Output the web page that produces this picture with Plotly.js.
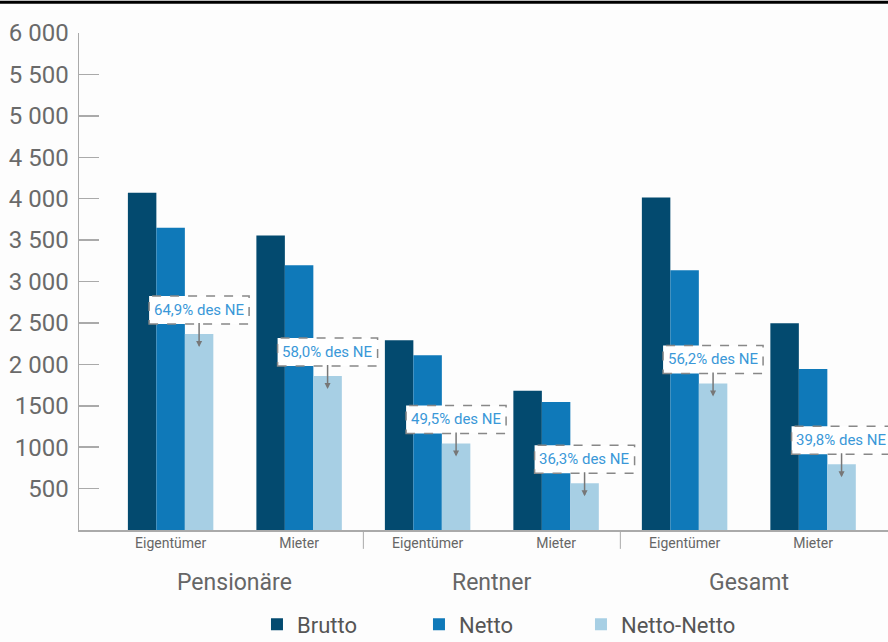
<!DOCTYPE html>
<html><head><meta charset="utf-8">
<script src="https://cdn.plot.ly/plotly-3.0.1.min.js"></script>
<style>html,body{margin:0;padding:0;background:#fdfdfd;}#chart{width:888px;height:642px;}</style>
</head><body><div id="chart"></div>
<script>
const subCats = ["Eigentümer","Mieter","Eigentümer","Mieter","Eigentümer","Mieter"];
const groups = ["Pensionäre","Rentner","Gesamt"];
const brutto = [4070, 3555, 2290, 1680, 4015, 2495];
const netto = [3650, 3195, 2110, 1545, 3135, 1945];
const nettoNetto = [2365, 1860, 1045, 565, 1770, 795];
const shareLabels = ["64,9% des NE","58,0% des NE","49,5% des NE","36,3% des NE","56,2% des NE","39,8% des NE"];
const yTickVals = [500,1000,1500,2000,2500,3000,3500,4000,4500,5000,5500,6000];
const yTickText = ["500","1000","1500","2 000","2 500","3 000","3 500","4 000","4 500","5 000","5 500","6 000"];

const FONT = "Roboto, 'DejaVu Sans Condensed', sans-serif";
const xs = subCats.map((_, i) => i);
const bargap = 0.335;
const barW = (1 - bargap) / 3;

const mk = (name, y, color) => ({type:'bar', name, x: xs, y, marker:{color, line:{width:0}}, hoverinfo:'skip'});
const data = [
  mk('Brutto', brutto, '#034a6f'),
  mk('Netto', netto, '#0f79b9'),
  mk('Netto-Netto', nettoNetto, '#a7cfe4')
];

const annotations = [];
const shapes = [];
nettoNetto.forEach((v, i) => {
  const xc = i + barW;
  annotations.push({
    x: xc, y: v, xref:'x', yref:'y', text: shareLabels[i],
    showarrow:true, ax:0, ay:-37, yshift:-13, arrowhead:2, arrowsize:0.8, arrowwidth:1.5,
    arrowcolor:'#777', bgcolor:'rgba(0,0,0,0)', borderwidth:0, borderpad:4,
    font:{family:FONT, size:15, color:'#3a98d8'}
  });
  shapes.push({
    type:'rect', xref:'x', yref:'y', xsizemode:'pixel', ysizemode:'pixel',
    xanchor: xc, yanchor: v, x0:-50, x1:50, y0:10, y1:38,
    line:{color:'#888', width:1.5, dash:'dash'}, fillcolor:'#ffffff', layer:'above'
  });
});
groups.forEach((g, k) => {
  annotations.push({x: 2*k + 0.5, y: -0.105, xref:'x', yref:'paper', text: g, showarrow:false,
    font:{family:FONT, size:23, color:'#666'}, yanchor:'middle'});
});
[1.5, 3.5].forEach(p => shapes.push({type:'line', xref:'x', yref:'paper', x0:p, x1:p, y0:0, y1:-0.038,
  line:{color:'#aaa', width:1}}));
shapes.push({type:'line', xref:'paper', yref:'paper', x0:-0.2, x1:1.05, y0:1.062, y1:1.062, line:{color:'#000', width:3}});

const layout = {
  width:888, height:642,
  margin:{l:79, r:0, t:33, b:112, autoexpand:false},
  paper_bgcolor:'#fdfdfd', plot_bgcolor:'#fdfdfd',
  barmode:'group', bargap: bargap, bargroupgap:0,
  showlegend:true,
  legend:{orientation:'h', x:0.22, xanchor:'left', y:-0.19, yanchor:'middle',
    font:{family:FONT, size:22, color:'#555'}, itemwidth:30, traceorder:'normal', entrywidth:117, entrywidthmode:'pixels'},
  xaxis:{range:[-0.713, 5.583], tickvals: xs, ticktext: subCats, showline:true, linecolor:'#aaa', linewidth:1.5,
    showgrid:false, zeroline:false, ticks:'', tickfont:{family:FONT, size:14, color:'#666'}, fixedrange:true},
  yaxis:{range:[0, 6000], tickvals: yTickVals, ticktext: yTickText, showline:true, linecolor:'#aaa', linewidth:1.5,
    showgrid:false, zeroline:false, ticks:'inside', ticklen:20, tickcolor:'#aaa', tickwidth:1.5,
    ticklabelstandoff:4, tickfont:{family:FONT, size:24, color:'#6a6a6a'}, fixedrange:true},
  annotations, shapes
};
Plotly.newPlot('chart', data, layout, {staticPlot:true});
</script></body></html>
